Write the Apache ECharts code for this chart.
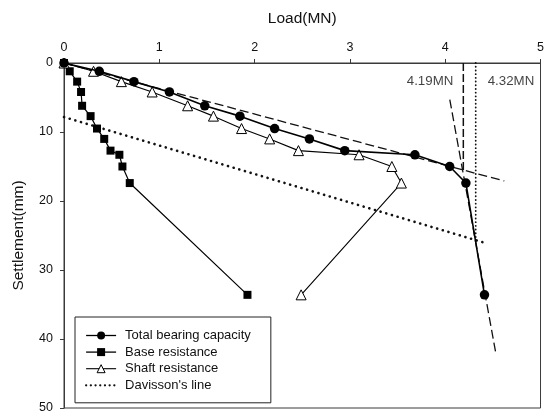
<!DOCTYPE html>
<html>
<head>
<meta charset="utf-8">
<script src="https://cdn.jsdelivr.net/npm/echarts@6/dist/echarts.min.js"></script>
<style>
  html, body { margin: 0; padding: 0; background: #fff; }
  #chart { width: 547px; height: 419px; }
</style>
</head>
<body>
<div id="chart"></div>
<script>
// Load-settlement curves from a static pile load test
const settlement = [0, 1.2, 2.7, 4.2, 6.2, 7.7, 9.5, 11.0, 12.7, 13.3, 15.0, 17.4, 33.6];
const totalLoad  = [0, 0.370, 0.734, 1.106, 1.477, 1.846, 2.210, 2.575, 2.946, 3.682, 4.047, 4.217, 4.412];
const baseLoad   = [0, 0.060, 0.138, 0.179, 0.190, 0.279, 0.346, 0.422, 0.488, 0.581, 0.613, 0.690, 1.925];
const shaftLoad  = [0, 0.310, 0.602, 0.925, 1.297, 1.568, 1.863, 2.158, 2.460, 3.096, 3.440, 3.540, 2.488];

// Davisson offset line and the two tangent lines of the total curve
const davissonLine   = [[0, 7.83], [4.412, 26.05]];
const initialTangent = [[0, 0], [4.62, 17.1]];
const finalTangent   = [[4.048, 5.3], [4.534, 42.3]];

// Ultimate load markers
const ultimateA = 4.19, ultimateAEnd = 15.9;
const ultimateB = 4.32, ultimateBEnd = 25.85;
const ultimateLabels = ['4.19MN', '4.32MN'];

const loadTicks = { min: 0, max: 5, interval: 1 };
const settleTicks = { min: 0, max: 50, interval: 10 };

const pairs = (xs) => xs.map((x, i) => [x, settlement[i]]);

const FONT = '"Liberation Sans", Arial, sans-serif';
const AXIS_COLOR = '#3a3a3a';

const chart = echarts.init(document.getElementById('chart'), null, { renderer: 'canvas' });

chart.setOption({
  animation: false,
  backgroundColor: '#fff',
  textStyle: { fontFamily: FONT, color: '#111' },
  grid: {
    left: 64, right: 2, top: 63, bottom: 11,
    show: true, borderColor: AXIS_COLOR, borderWidth: 1, backgroundColor: 'transparent'
  },
  xAxis: {
    type: 'value', position: 'top',
    min: loadTicks.min, max: loadTicks.max, interval: loadTicks.interval,
    name: 'Load(MN)', nameLocation: 'middle', nameGap: 36,
    nameTextStyle: { fontSize: 15.5, color: '#111', fontFamily: FONT },
    axisLine: { show: true, lineStyle: { color: AXIS_COLOR, width: 1 } },
    axisTick: { show: true, inside: false, length: 4, lineStyle: { color: AXIS_COLOR } },
    axisLabel: { fontSize: 12.5, color: '#111', margin: 9, fontFamily: FONT },
    splitLine: { show: false }
  },
  yAxis: {
    type: 'value', inverse: true,
    min: settleTicks.min, max: settleTicks.max, interval: settleTicks.interval,
    name: 'Settlement(mm)', nameLocation: 'middle', nameGap: 37,
    nameTextStyle: { fontSize: 15.5, color: '#111', fontFamily: FONT },
    axisLine: { show: true, lineStyle: { color: AXIS_COLOR, width: 1 } },
    axisTick: { show: true, inside: false, length: 4, lineStyle: { color: AXIS_COLOR } },
    axisLabel: { fontSize: 12.5, color: '#111', margin: 11, fontFamily: FONT },
    splitLine: { show: false }
  },
  legend: {
    orient: 'vertical', left: 75, top: 317,
    data: [
      { name: 'Total bearing capacity', itemStyle: { color: '#000' }, lineStyle: { width: 1.3, color: '#000' } },
      { name: 'Base resistance', itemStyle: { color: '#000' }, lineStyle: { width: 1.3, color: '#000' } },
      { name: 'Shaft resistance', itemStyle: { color: '#fff', borderColor: '#000', borderWidth: 1 }, lineStyle: { width: 1.1, color: '#000' } },
      { name: "Davisson's line", itemStyle: { color: 'rgba(0,0,0,0)', borderWidth: 0 }, lineStyle: { width: 2.2, color: '#111', type: [0.1, 4.6], cap: 'round' } }
    ],
    backgroundColor: '#fff', borderColor: '#222', borderWidth: 1,
    padding: [12, 20, 11, 10],
    itemWidth: 30, itemHeight: 10, itemGap: 3.6,
    textStyle: { fontSize: 13, color: '#111', fontFamily: FONT, padding: [0, 0, 0, 4] },
    selectedMode: false
  },
  series: [
    {
      name: "Davisson's line", type: 'line', data: davissonLine, symbol: 'none', z: 1,
      itemStyle: { color: 'rgba(0,0,0,0)' },
      lineStyle: { color: '#111', width: 2.6, type: [0.1, 5.8], cap: 'round' }
    },
    {
      name: 'initialTangent', type: 'line', data: initialTangent, symbol: 'none', z: 1,
      lineStyle: { color: '#111', width: 1.3, type: [9, 4] }
    },
    {
      name: 'finalTangent', type: 'line', data: finalTangent, symbol: 'none', z: 1,
      lineStyle: { color: '#111', width: 1.3, type: [9, 4] }
    },
    {
      name: 'ultimateA', type: 'line', data: [[ultimateA, 0], [ultimateA, ultimateAEnd]], symbol: 'none', z: 1,
      lineStyle: { color: '#111', width: 1.5, type: [8, 3] }
    },
    {
      name: 'ultimateB', type: 'line', data: [[ultimateB, 0], [ultimateB, ultimateBEnd]], symbol: 'none', z: 1,
      lineStyle: { color: '#111', width: 1.8, type: [0.1, 3.6], cap: 'round' }
    },
    {
      name: 'ultimateText', type: 'scatter', symbolSize: 0, z: 3, silent: true,
      data: [
        { value: [ultimateA, 2.65], label: { position: 'left', distance: 10, formatter: ultimateLabels[0] } },
        { value: [ultimateB, 2.65], label: { position: 'right', distance: 12, formatter: ultimateLabels[1] } }
      ],
      label: { show: true, fontSize: 13.3, color: '#111', fontFamily: FONT }
    },
    {
      name: 'Base resistance', type: 'line', data: pairs(baseLoad), z: 2,
      symbol: 'rect', symbolSize: 8,
      itemStyle: { color: '#000' },
      lineStyle: { color: '#000', width: 1.2 }
    },
    {
      name: 'Shaft resistance', type: 'line', data: pairs(shaftLoad), z: 3,
      symbol: 'triangle', symbolSize: 10, showAllSymbol: true,
      itemStyle: { color: '#fff', borderColor: '#000', borderWidth: 1 },
      lineStyle: { color: '#000', width: 1.1 }
    },
    {
      name: 'Total bearing capacity', type: 'line', data: pairs(totalLoad), z: 4,
      symbol: 'circle', symbolSize: 9.5,
      itemStyle: { color: '#000' },
      lineStyle: { color: '#000', width: 1.6 }
    }
  ]
});
</script>
</body>
</html>
